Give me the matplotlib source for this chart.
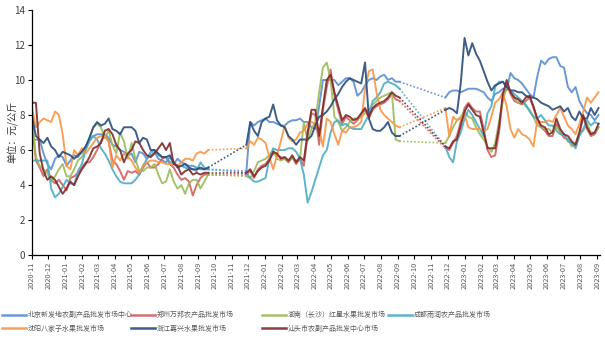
import numpy as np
import pandas as pd
import matplotlib
matplotlib.use('Agg')
import matplotlib.pyplot as plt
import matplotlib.dates as mdates

plt.rcParams['font.family'] = ['Noto Sans CJK SC', 'DejaVu Sans']

# weekly price data, three observed stretches (gaps bridged by dotted lines)
seg_starts = ['2020-11-01', '2021-11-28', '2022-11-27']
seg_lens = [47, 41, 41]

names = ['北京新发地农副产品批发市场中心', '郑州万邦农产品批发市场', '湖南（长沙）红星水果批发市场',
         '成都雨润农产品批发市场', '沈阳八家子水果批发市场', '浙江嘉兴水果批发市场',
         '汕头市农副产品批发中心市场']
colors = ['#5A8ED2', '#D0605E', '#9BBB59', '#4BACC6', '#F79646', '#2A4B7C', '#7E2A2A']

beijing = [6.5, 6.6, 6.6, 5.8, 5.2, 4.9, 5.5, 5.7, 5.6, 5.1, 5.4, 5.7, 5.6, 5.9, 6.2, 6.6, 6.8, 6.9, 6.9, 6.9,
           6.7, 6.3, 6.2, 6.0, 5.9, 5.7, 5.8, 5.3, 5.9, 5.8, 5.5, 5.7, 5.9, 5.5, 5.4, 5.3, 5.6, 5.2, 5.5, 5.3,
           5.2, 5.1, 5.1, 5.0, 4.9, 4.9, 4.9,
           4.8, 7.6, 7.4, 7.6, 7.7, 7.8, 7.6, 7.6, 7.5, 7.4, 7.4, 7.6, 7.7, 7.7, 7.8, 7.6, 7.6, 7.3, 7.2, 8.5,
           10.0, 10.0, 10.0, 10.0, 9.7, 9.9, 10.1, 10.1, 9.9, 9.1, 9.3, 9.7, 10.0, 10.1, 10.0, 10.2, 10.3, 10.0,
           10.1, 9.9, 9.9,
           9.0, 9.3, 9.4, 9.4, 9.3, 9.4, 9.5, 9.5, 9.5, 9.4, 9.3, 9.0, 8.8, 9.2, 9.3, 9.5, 9.4, 10.4, 10.1, 10.0,
           9.8, 9.5, 9.2, 9.0, 10.2, 11.1, 10.9, 11.2, 11.3, 11.3, 10.8, 10.7, 9.6, 9.3, 9.6, 8.8, 8.4, 8.1, 8.0,
           7.7, 8.0]
zhengzhou = [7.5, 5.4, 5.0, 4.5, 4.9, 4.3, 4.1, 4.3, 4.0, 3.7, 4.4, 4.5, 4.7, 5.0, 5.3, 5.3, 5.6, 6.0, 6.5, 6.8,
             6.5, 5.4, 5.2, 4.8, 4.3, 4.8, 4.7, 4.8, 4.6, 5.0, 5.3, 5.0, 5.0, 5.2, 5.5, 5.6, 5.2, 5.0, 4.6, 4.3,
             4.4, 4.2, 3.4, 4.0, 4.4, 4.6, 4.6,
             4.6, 4.8, 4.4, 4.9, 5.1, 5.2, 5.5, 5.8, 5.7, 5.6, 5.5, 5.3, 5.6, 5.2, 5.5, 5.1, 6.8, 8.1, 8.0, 6.3,
             8.3, 9.6, 10.6, 9.1, 8.3, 7.5, 7.9, 7.7, 7.5, 7.7, 8.0, 8.3, 7.8, 8.3, 8.5, 8.6, 8.7, 8.9, 9.2, 8.9,
             8.8,
             6.1, 6.0, 6.4, 6.8, 7.6, 8.4, 8.7, 8.4, 8.2, 8.2, 7.2, 6.0, 5.6, 5.7, 7.0, 9.0, 9.8, 9.2, 8.8, 8.7,
             8.6, 8.8, 9.0, 8.4, 7.7, 7.3, 7.1, 6.8, 6.8, 7.5, 7.0, 6.7, 6.6, 6.4, 6.2, 6.9, 7.9, 7.2, 6.8, 6.9,
             7.3]
hunan = [7.8, 5.6, 5.1, 4.9, 4.7, 4.2, 4.5, 4.9, 5.2, 4.5, 4.5, 4.9, 5.4, 5.6, 6.1, 6.7, 7.3, 7.5, 7.3, 6.7,
         7.1, 6.3, 5.8, 7.0, 6.5, 5.5, 6.4, 5.5, 4.8, 4.8, 5.0, 5.0, 5.2, 4.6, 4.1, 4.2, 4.9, 4.2, 3.8, 4.0,
         3.5, 4.1, 4.3, 4.3, 3.8, 4.2, 4.6,
         4.5, 4.4, 4.8, 5.3, 5.4, 5.5, 5.7, 6.0, 5.5, 5.4, 5.5, 5.4, 5.5, 5.4, 5.5, 7.6, 6.5, 7.2, 7.6, 9.3,
         10.7, 11.0, 10.0, 7.9, 7.6, 7.1, 7.3, 7.6, 7.8, 7.8, 7.9, 8.1, 8.3, 8.6, 8.8, 9.0, 9.1, 9.2, 9.3, 6.6,
         6.5,
         6.4, 6.8, 7.3, 7.7, 7.9, 8.2, 7.9, 7.8, 7.3, 6.9, 6.6, 6.2, 5.9, 6.4, 7.6, 8.8, 9.6, 9.4, 9.0, 8.7,
         8.8, 8.5, 8.3, 7.9, 7.4, 7.3, 7.2, 7.2, 7.0, 7.3, 7.1, 6.8, 6.6, 6.2, 6.4, 7.0, 7.1, 7.5, 7.0, 7.0,
         7.3]
chengdu = [5.4, 5.4, 5.4, 5.4, 5.4, 3.8, 3.3, 3.5, 3.9, 4.3, 4.1, 4.0, 4.8, 5.2, 6.0, 6.5, 6.8, 6.6, 6.1, 5.8,
           5.4, 4.9, 4.5, 4.2, 4.1, 4.1, 4.1, 4.3, 4.6, 5.1, 5.5, 5.9, 6.0, 5.7, 5.6, 5.6, 5.3, 5.3, 5.1, 5.1,
           5.0, 4.9, 4.9, 4.8, 5.3, 5.0, 4.9,
           4.7, 4.4, 4.2, 4.2, 4.3, 4.4, 5.5, 6.1, 6.0, 6.0, 6.0, 6.1, 6.1, 5.9, 5.5, 4.6, 3.0, 3.6, 4.3, 5.0,
           5.7, 6.0, 7.0, 7.6, 7.7, 7.4, 7.5, 7.3, 7.2, 7.2, 7.2, 7.6, 8.0, 8.8, 9.0, 9.3, 9.8, 9.9, 9.8, 9.7,
           9.5,
           6.2, 5.6, 5.3, 6.5, 7.0, 7.8, 8.3, 8.0, 7.6, 7.2, 6.8, 8.1, 8.5, 9.6, 9.9, 9.9, 9.6, 9.4, 9.2, 9.0,
           8.8, 8.6, 8.2, 7.9, 7.8, 8.0, 7.7, 7.4, 7.4, 7.1, 6.9, 6.9, 6.5, 6.4, 6.1, 6.8, 7.2, 7.7, 7.4, 7.6,
           7.5]
shenyang = [8.4, 7.3, 7.6, 7.8, 7.7, 7.6, 8.2, 8.0, 6.9, 5.1, 4.9, 6.0, 5.7, 6.1, 5.8, 6.1, 6.4, 6.7, 6.8, 6.8,
            6.5, 5.0, 5.7, 5.4, 5.8, 5.6, 5.4, 5.0, 4.7, 5.1, 5.3, 5.4, 5.4, 5.3, 5.3, 5.2, 5.2, 5.2, 5.1, 5.3,
            5.5, 5.5, 5.4, 5.8, 5.9, 5.8, 6.0,
            6.1, 6.5, 6.3, 6.7, 6.6, 6.4, 5.6, 4.9, 5.7, 6.5, 7.4, 6.7, 6.5, 6.6, 7.0, 7.1, 7.5, 7.6, 7.5, 7.2,
            6.2, 7.8, 7.6, 6.9, 6.3, 7.1, 7.0, 7.3, 7.3, 7.4, 7.6, 9.5, 10.5, 10.6, 9.3, 8.3, 8.0, 7.8, 7.6, 7.4,
            7.3,
            8.4, 6.8, 7.9, 7.7, 7.8, 8.0, 7.3, 7.2, 7.2, 7.2, 7.1, 7.2, 7.9, 8.7, 8.9, 9.3, 8.5, 7.2, 6.7, 7.2,
            6.9, 6.8, 6.6, 6.2, 7.7, 7.6, 7.6, 7.7, 7.6, 8.0, 8.4, 7.9, 7.4, 7.2, 6.9, 7.5, 8.2, 9.0, 8.7, 9.0,
            9.3]
jiaxing = [7.9, 6.8, 6.6, 6.4, 6.7, 6.2, 6.0, 5.6, 5.9, 5.8, 5.7, 5.5, 5.7, 5.9, 6.2, 6.7, 7.3, 7.6, 7.4, 7.5,
           7.8, 7.2, 7.1, 6.9, 7.3, 7.3, 7.3, 7.1, 6.4, 6.7, 6.6, 6.0, 6.0, 5.8, 5.6, 5.6, 5.7, 5.3, 5.0, 5.1,
           5.2, 5.0, 4.9, 4.9, 5.0, 4.9, 5.0,
           6.3, 7.6, 7.1, 6.8, 7.6, 7.8, 7.9, 8.6, 7.7, 7.4, 7.3, 6.8, 6.6, 6.3, 6.6, 6.6, 6.6, 6.8, 7.4, 7.9,
           8.0, 8.2, 8.5, 8.9, 9.2, 9.6, 9.9, 10.1, 10.0, 9.9, 9.8, 11.0, 7.8, 7.2, 7.1, 7.1, 7.3, 7.6, 7.0, 6.8,
           6.8,
           8.3, 8.4, 8.3, 8.1, 9.8, 12.4, 11.4, 12.1, 11.5, 11.1, 10.5, 9.9, 9.4, 9.7, 9.8, 9.9, 9.6, 9.4, 9.4, 9.3,
           9.3, 9.1, 9.0, 9.0, 8.9, 8.7, 8.6, 8.5, 8.3, 8.4, 8.5, 8.2, 8.4, 7.9, 7.7, 8.2, 7.8, 7.8, 8.4, 8.0,
           8.4]
shantou = [8.7, 8.7, 5.8, 4.8, 4.3, 4.5, 4.3, 3.9, 3.5, 3.8, 4.2, 4.0, 4.5, 4.9, 5.2, 5.6, 6.1, 6.2, 6.4, 7.1,
           7.2, 6.9, 6.3, 6.0, 5.3, 5.8, 6.0, 6.5, 6.4, 6.0, 5.7, 5.6, 5.8, 6.1, 6.4, 6.0, 6.4, 5.2, 5.1, 4.6,
           4.8, 4.9, 4.6, 4.7, 4.6, 4.7, 4.7,
           4.7, 4.9, 4.5, 4.8, 5.0, 5.1, 5.4, 5.9, 5.8, 5.5, 5.6, 5.4, 5.7, 5.3, 5.6, 5.4, 7.0, 8.3, 8.3, 6.8,
           8.5, 10.0, 10.3, 9.3, 8.5, 7.7, 8.0, 7.9, 7.7, 7.8, 8.1, 8.4, 7.9, 8.4, 8.6, 8.7, 8.8, 9.0, 9.3, 9.1,
           9.0,
           6.2, 6.1, 6.5, 6.6, 7.4, 8.2, 8.6, 8.3, 8.0, 7.9, 7.0, 6.1, 6.1, 6.1, 7.3, 9.2, 10.0, 9.3, 9.0, 8.9,
           8.7, 9.0, 9.1, 8.5, 7.8, 7.4, 7.3, 6.9, 7.0, 7.8, 7.2, 6.9, 6.8, 6.5, 6.3, 7.0, 8.0, 7.3, 6.9, 7.0,
           7.5]

series = [beijing, zhengzhou, hunan, chengdu, shenyang, jiaxing, shantou]

seg_dates = [pd.date_range(s, periods=n, freq='7D') for s, n in zip(seg_starts, seg_lens)]
bounds = np.cumsum([0] + seg_lens)

fig = plt.figure(figsize=(6.05, 3.42), dpi=100)
ax = fig.add_axes([0.053, 0.254, 0.939, 0.717])

handles = []
for vals, c, name in zip(series, colors, names):
    vals = np.array(vals)
    for k in range(3):
        seg = vals[bounds[k]:bounds[k + 1]]
        ln, = ax.plot(seg_dates[k], seg, color=c, lw=1.4, alpha=0.9, label=name)
        if k < 2:
            nxt = vals[bounds[k + 1]]
            ax.plot([seg_dates[k][-1], seg_dates[k + 1][0]], [seg[-1], nxt],
                    color=c, lw=1.2, ls=(0, (1, 1.2)), alpha=0.9)
    handles.append(ln)

ax.set_ylim(0, 14)
ax.set_yticks(range(0, 15, 2))
ax.set_xlim(pd.Timestamp('2020-11-01'), pd.Timestamp('2023-09-06'))
ax.xaxis.set_major_locator(mdates.MonthLocator())
ax.xaxis.set_major_formatter(mdates.DateFormatter('%Y-%m'))
for lab in ax.get_xticklabels():
    lab.set_rotation(90)
ax.tick_params(axis='x', labelsize=5.3, colors='#595959', length=3, width=0.8, pad=2)
ax.tick_params(axis='y', labelsize=7, colors='#404040', length=3, width=0.8, pad=2)
ax.tick_params(axis='both', color='black')
for s in ['top', 'right']:
    ax.spines[s].set_visible(False)
for s in ['left', 'bottom']:
    ax.spines[s].set_linewidth(0.9)

fig.text(0.022, 0.613, '单位：元/公斤', rotation=90, ha='center', va='center',
         fontsize=7, color='#333333')

col_x = [2, 131, 262, 388]
cols = [[0, 4], [1, 5], [2, 6], [3]]
for cx, idx in zip(col_x, cols):
    leg = fig.legend([handles[i] for i in idx], [names[i] for i in idx],
                     loc='upper left', bbox_to_anchor=(cx / 605, 1 - 311 / 342),
                     frameon=False, fontsize=5, borderaxespad=0, borderpad=0,
                     handlelength=3.4, handletextpad=0.3, labelspacing=0.85)
    for t in leg.get_texts():
        t.set_color('#595959')
    for h in leg.legend_handles:
        h.set_linewidth(1.8)

fig.savefig('out.png', dpi=100)
